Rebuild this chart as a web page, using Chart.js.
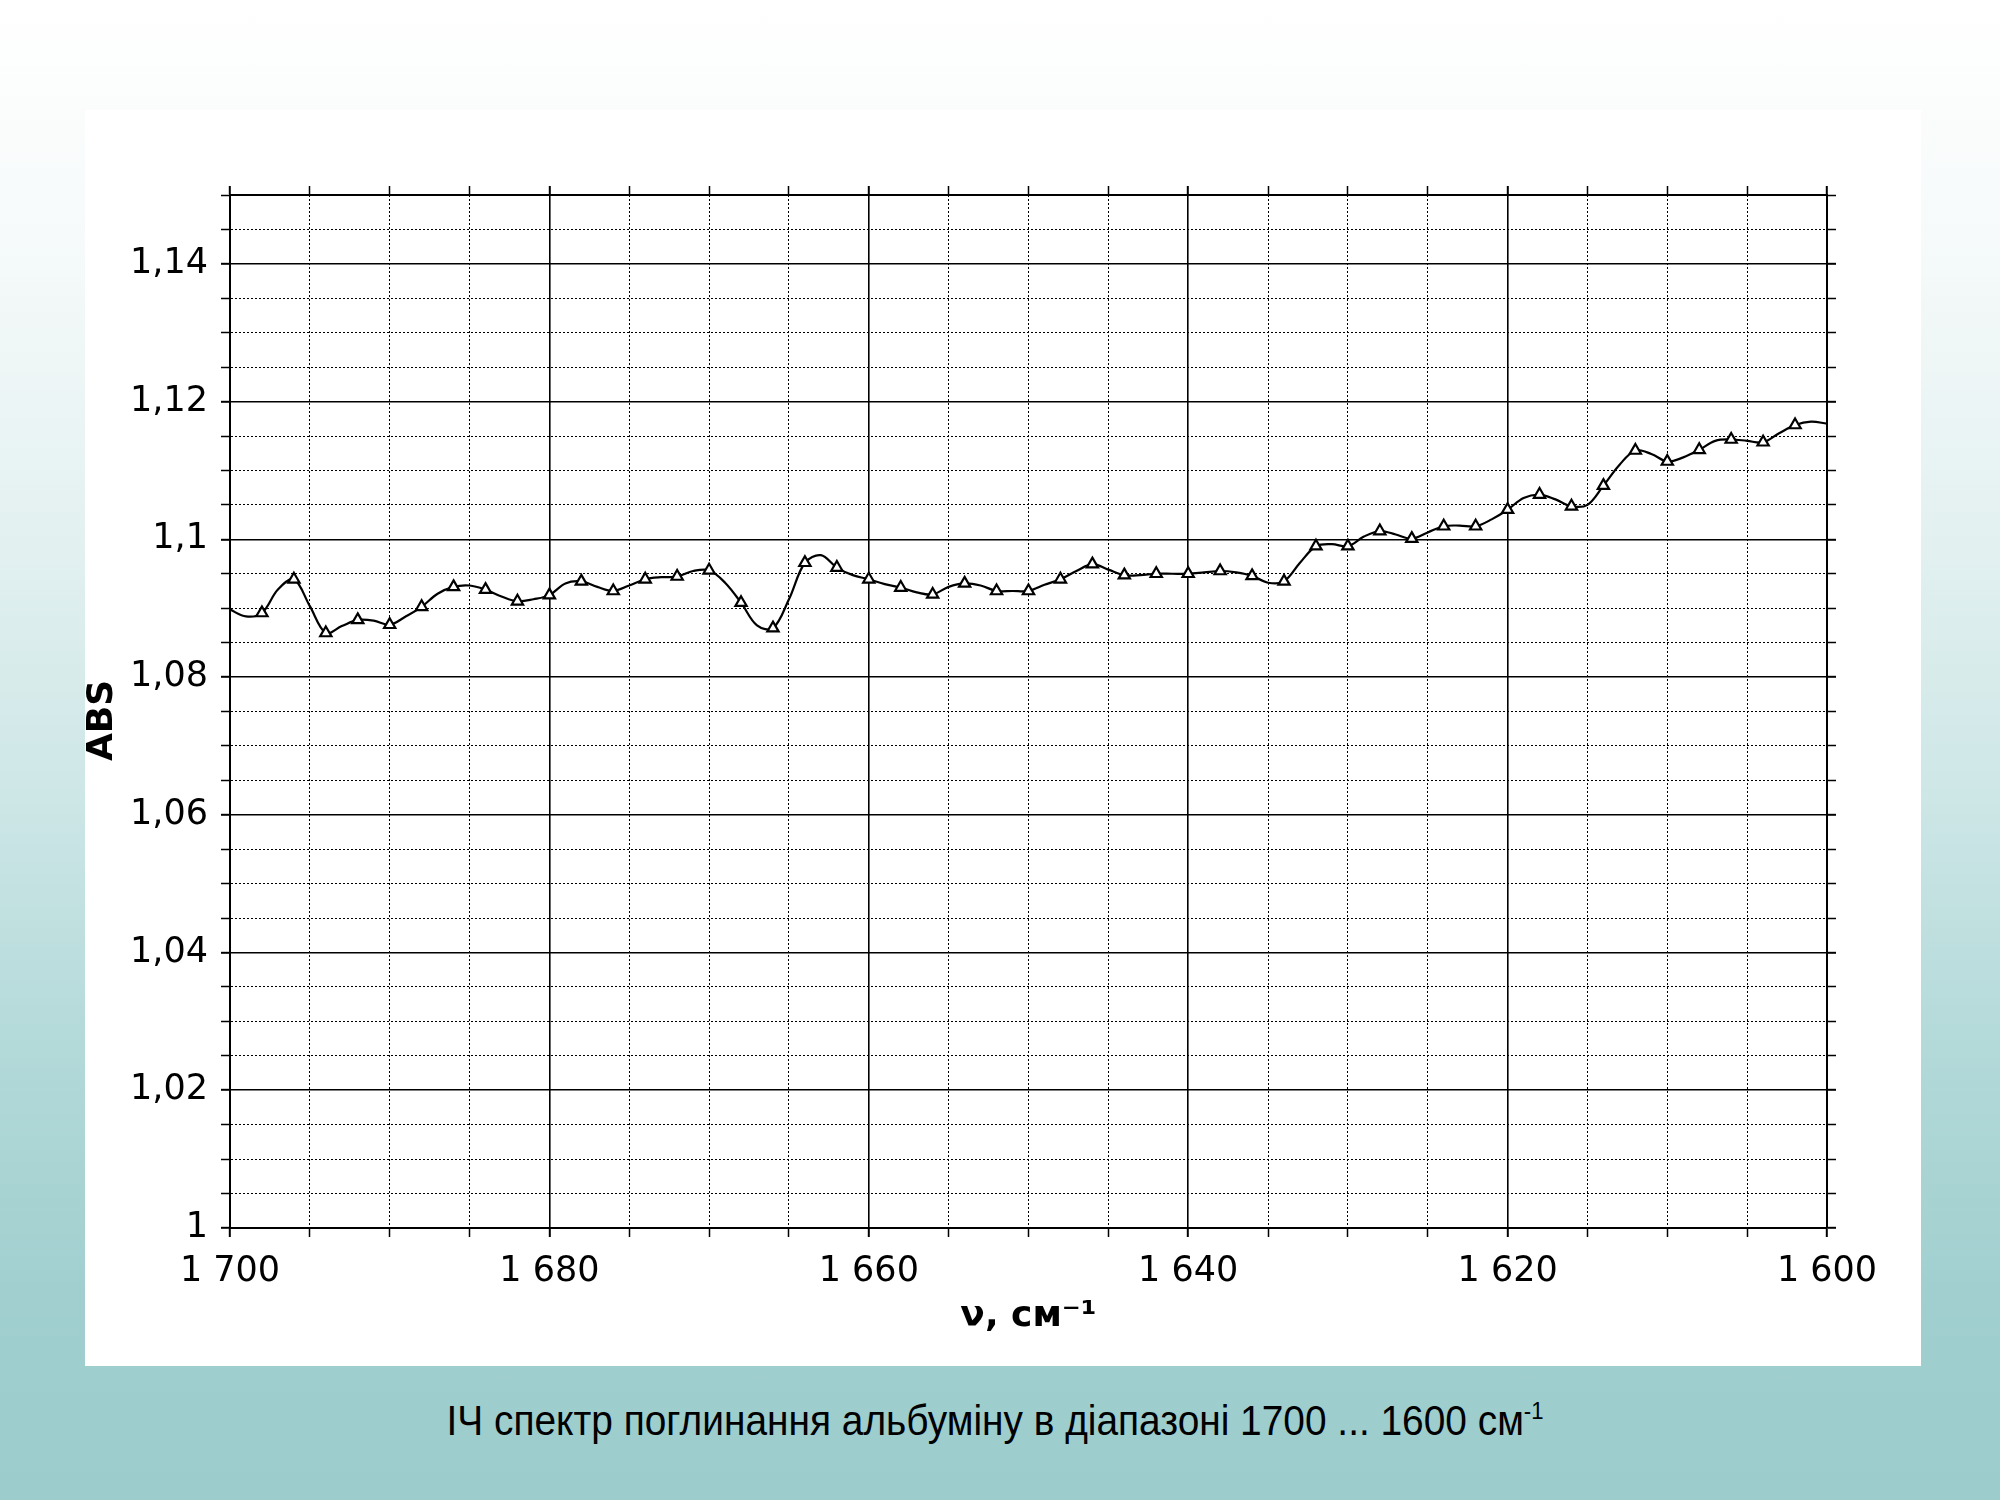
<!DOCTYPE html>
<html lang="uk">
<head>
<meta charset="utf-8">
<title>ІЧ спектр поглинання альбуміну</title>
<script src="https://cdn.jsdelivr.net/npm/chart.js@4.4.0/dist/chart.umd.min.js"></script>
<style>
  html, body { margin: 0; padding: 0; }
  body {
    width: 2000px; height: 1500px; overflow: hidden; position: relative;
    background: linear-gradient(to bottom, #ffffff 0%, #f6fafa 16%, #e4f1f1 35%, #cfe7e7 52%, #b3d9d9 70%, #a1cfcf 86%, #9ccccc 100%);
  }
  #panel { position: absolute; left: 85px; top: 110px; width: 1836px; height: 1256px; background: #fff; }
  #caption {
    position: absolute; left: 0; top: 1400px; width: 1990px; text-align: center;
    font-family: "Liberation Sans", Arial, sans-serif; font-size: 42px; line-height: 42px; color: #000;
  }
  #caption span { display: inline-block; transform: scaleX(0.925); transform-origin: center; }
  #caption sup { font-size: 24px; vertical-align: 16px; line-height: 0; }
</style>
</head>
<body>
<div id="panel"><canvas id="spectrum" width="1836" height="1256"></canvas></div>
<div id="caption"><span>ІЧ спектр поглинання альбуміну в діапазоні 1700 ... 1600 см<sup>-1</sup></span></div>
<script>
// хвильові числа, см-1 (крок 1)
const wavenumbers = [
  1700, 1699, 1698, 1697, 1696, 1695, 1694, 1693, 1692, 1691,
  1690, 1689, 1688, 1687, 1686, 1685, 1684, 1683, 1682, 1681,
  1680, 1679, 1678, 1677, 1676, 1675, 1674, 1673, 1672, 1671,
  1670, 1669, 1668, 1667, 1666, 1665, 1664, 1663, 1662, 1661,
  1660, 1659, 1658, 1657, 1656, 1655, 1654, 1653, 1652, 1651,
  1650, 1649, 1648, 1647, 1646, 1645, 1644, 1643, 1642, 1641,
  1640, 1639, 1638, 1637, 1636, 1635, 1634, 1633, 1632, 1631,
  1630, 1629, 1628, 1627, 1626, 1625, 1624, 1623, 1622, 1621,
  1620, 1619, 1618, 1617, 1616, 1615, 1614, 1613, 1612, 1611,
  1610, 1609, 1608, 1607, 1606, 1605, 1604, 1603, 1602, 1601,
  1600
];
// поглинання (ABS)
const absorbance = [
  1.0898, 1.0888, 1.0893, 1.0927, 1.0942, 1.0903, 1.0864, 1.0874, 1.0883, 1.0882,
  1.0876, 1.0888, 1.0902, 1.0921, 1.0931, 1.0933, 1.0927, 1.0917, 1.0910, 1.0913,
  1.0919, 1.0936, 1.0939, 1.0931, 1.0925, 1.0933, 1.0942, 1.0945, 1.0946, 1.0954,
  1.0955, 1.0937, 1.0908, 1.0875, 1.0871, 1.0913, 1.0966, 1.0977, 1.0959, 1.0948,
  1.0942, 1.0935, 1.0930, 1.0923, 1.0920, 1.0931, 1.0936, 1.0933, 1.0925, 1.0925,
  1.0925, 1.0934, 1.0942, 1.0954, 1.0964, 1.0956, 1.0948, 1.0948, 1.0950, 1.0950,
  1.0950, 1.0952, 1.0954, 1.0952, 1.0947, 1.0937, 1.0939, 1.0966, 1.0990, 1.0993,
  1.0990, 1.1004, 1.1012, 1.1007, 1.1001, 1.1010, 1.1019, 1.1020, 1.1019, 1.1029,
  1.1043, 1.1060, 1.1065, 1.1058, 1.1048, 1.1050, 1.1078, 1.1108, 1.1129, 1.1124,
  1.1113, 1.1119, 1.1130, 1.1143, 1.1145, 1.1143, 1.1141, 1.1154, 1.1166, 1.1171,
  1.1168
];
// підписані поділки осей
const xMajorTicks = [1700, 1680, 1660, 1640, 1620, 1600];
const yMajorTicks = [1, 1.02, 1.04, 1.06, 1.08, 1.1, 1.12, 1.14];

const X_MIN = 1600, X_MAX = 1700, Y_MIN = 1, Y_MAX = 1.15;

function isMajor(list, v) {
    return list.some(t => Math.abs(t - v) < 1e-6);
}
function formatX(v) {
    return String(Math.round(v)).replace(/\B(?=(\d{3})+(?!\d))/g, ' ');
}
function formatY(v) {
    return String(parseFloat(v.toFixed(3))).replace('.', ',');
}

var points = wavenumbers.map((w, i) => ({ x: w, y: absorbance[i] }));

var tickFont = { family: 'DejaVu Sans', size: 35 };
var titleFont = { family: 'DejaVu Sans', size: 36, weight: 'bold' };

// сітка: основні лінії суцільні, проміжні - пунктир
function gridFor(list, onChart) {
    return {
        color: '#000',
        lineWidth: ctx => (ctx.tick && isMajor(list, ctx.tick.value)) ? 1.6 : 1,
        tickWidth: ctx => (ctx.tick && isMajor(list, ctx.tick.value)) ? 2 : 1.5,
        tickColor: '#000',
        tickLength: 9,
        tickBorderDash: [],
        drawTicks: true,
        drawOnChartArea: onChart
    };
}
function borderFor(list) {
    return {
        display: true,
        color: '#000',
        width: 2,
        dash: ctx => (ctx.tick && !isMajor(list, ctx.tick.value)) ? [2, 2] : []
    };
}

var ctx = document.getElementById('spectrum').getContext('2d');
var chart = new Chart(ctx, {
    type: 'line',
    data: {
        datasets: [{
            label: 'ABS',
            data: points,
            borderColor: '#000',
            borderWidth: 2.2,
            fill: false,
            tension: 0.35,
            pointStyle: 'triangle',
            // маркери на парних хвильових числах
            pointRadius: c => {
                var w = wavenumbers[c.dataIndex];
                return (w % 2 === 0 && w !== X_MIN && w !== X_MAX) ? 6.5 : 0;
            },
            pointBackgroundColor: '#fff',
            pointBorderColor: '#000',
            pointBorderWidth: 2.2
        }]
    },
    options: {
        responsive: false,
        animation: false,
        devicePixelRatio: 1,
        layout: { padding: { top: 75, right: 84, bottom: 28, left: 0 } },
        plugins: { legend: { display: false }, tooltip: { enabled: false } },
        scales: {
            x: {
                type: 'linear', position: 'bottom', reverse: true,
                min: X_MIN, max: X_MAX,
                ticks: {
                    stepSize: 5, autoSkip: false, maxRotation: 0, color: '#000', font: tickFont, padding: 14,
                    callback: v => isMajor(xMajorTicks, v) ? formatX(v) : ''
                },
                grid: gridFor(xMajorTicks, true),
                border: borderFor(xMajorTicks),
                title: { display: true, text: 'ν, см⁻¹', color: '#000', font: titleFont, padding: 0 },
                afterFit: s => { s.height = 110; }
            },
            x2: {
                type: 'linear', position: 'top', reverse: true,
                min: X_MIN, max: X_MAX,
                ticks: { stepSize: 5, display: false },
                grid: gridFor(xMajorTicks, false),
                border: { display: true, color: '#000', width: 2 },
                afterFit: s => { s.height = 10; }
            },
            y: {
                type: 'linear', position: 'left',
                min: Y_MIN, max: Y_MAX,
                ticks: {
                    stepSize: 0.005, autoSkip: false, color: '#000', font: tickFont, padding: 13,
                    callback: v => isMajor(yMajorTicks, v) ? formatY(v) : ''
                },
                grid: gridFor(yMajorTicks, true),
                border: borderFor(yMajorTicks),
                title: { display: true, text: 'ABS\u2002', color: '#000', font: Object.assign({ lineHeight: 1 }, titleFont), padding: 0 },
                afterFit: s => { s.width = 145; }
            },
            y2: {
                type: 'linear', position: 'right',
                min: Y_MIN, max: Y_MAX,
                ticks: { stepSize: 0.005, display: false },
                grid: gridFor(yMajorTicks, false),
                border: { display: true, color: '#000', width: 2 },
                afterFit: s => { s.width = 10; }
            }
        }
    }
});
</script>
</body>
</html>
